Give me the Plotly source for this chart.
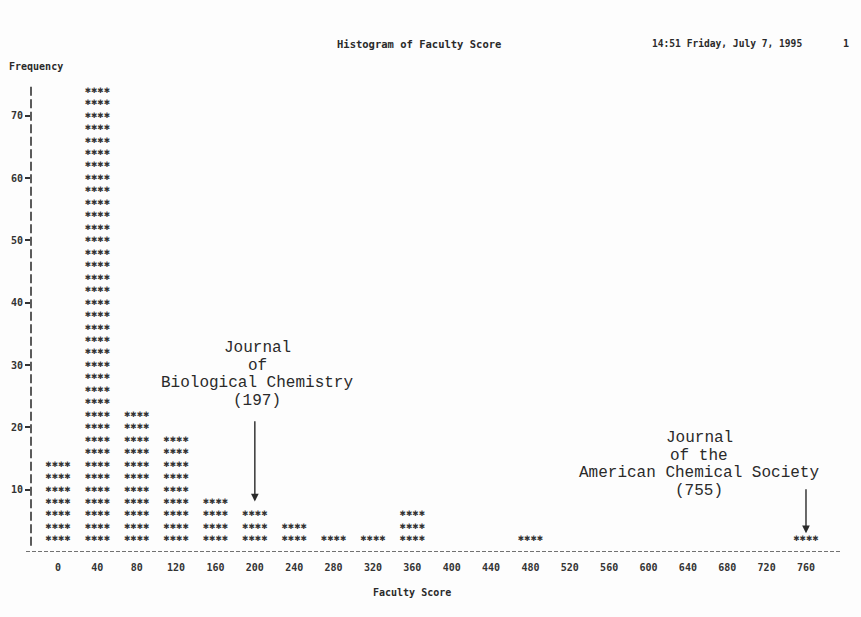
import plotly.graph_objects as go

# ---- data ----
scores = [0, 40, 80, 120, 160, 200, 240, 280, 320, 360, 400, 440, 480, 520, 560, 600, 640, 680, 720, 760]
freq = [14, 74, 22, 18, 8, 6, 4, 2, 2, 6, 0, 0, 2, 0, 0, 0, 0, 0, 0, 2]
ytick_vals = [10, 20, 30, 40, 50, 60, 70]
row_step = 2  # each printed row of symbols represents 2 counts

# ---- build printer-style rows of symbols from data ----
xs, ys = [], []
for s, f in zip(scores, freq):
    for k in range(1, f // row_step + 1):
        xs.append(s)
        ys.append(k * row_step)

W, H = 861, 617
L, R, T, B = 31, 21, 80, 65
pw, ph = W - L - R, H - T - B


def px(x):
    return (x - L) / pw


def py(y):
    return (H - B - y) / ph


mono = "DejaVu Sans Mono"
courier = "Liberation Mono"
ink = "#2a2a2a"

fig = go.Figure()
fig.add_trace(go.Scatter(
    x=xs, y=ys, mode="text", text=["\u2731\u2731\u2731\u2731"] * len(xs),
    textfont=dict(family="DejaVu Sans", size=7.6, color="#333"),
    textposition="middle center", hoverinfo="skip", showlegend=False,
))

shapes = [
    # dashed baseline
    dict(type="line", xref="paper", yref="y", x0=px(26), x1=px(842), y0=0, y1=0,
         line=dict(color="#444", width=1.4, dash="4px,2px")),
    # vertical printer axis
    dict(type="line", xref="paper", yref="y", x0=0, x1=0, y0=1, y1=75,
         line=dict(color="#333", width=1.6, dash="9px,3.5px")),
]

annotations = []


def txt(text, x, y, size, family, xanchor="center", bold=False):
    annotations.append(dict(
        text=text, x=px(x), y=py(y), xref="paper", yref="paper", showarrow=False,
        xanchor=xanchor, yanchor="middle",
        font=dict(family=family, size=size, color=ink, weight="bold" if bold else "normal"),
    ))


txt("Histogram of Faculty Score", 419, 44, 10.5, mono, bold=True)
txt("14:51 Friday, July 7, 1995", 650, 44, 9.6, mono, xanchor="left", bold=True)
txt("1", 846, 44, 10, mono, bold=True)
txt("Frequency", 7, 67, 10, mono, xanchor="left", bold=True)
txt("Faculty Score", 412, 592, 10, mono, bold=True)

for i, line in enumerate(["Journal", "of", "Biological Chemistry", "(197)"]):
    txt(line, 257, 348 + i * 17.5, 16, courier)
for i, line in enumerate(["Journal", "of the", "American Chemical Society", "(755)"]):
    txt(line, 699, 438 + i * 17.5, 16, courier)

# arrows pointing to the bins
annotations.append(dict(x=200, y=8.1, ax=200, ay=21.2, xref="x", yref="y", axref="x", ayref="y",
                        text="", showarrow=True, arrowhead=2, arrowsize=1.1, arrowwidth=1.4,
                        arrowcolor=ink))
annotations.append(dict(x=760, y=3.0, ax=760, ay=10.3, xref="x", yref="y", axref="x", ayref="y",
                        text="", showarrow=True, arrowhead=2, arrowsize=1.1, arrowwidth=1.4,
                        arrowcolor=ink))

fig.update_layout(
    width=W, height=H,
    margin=dict(l=L, r=R, t=T, b=B),
    paper_bgcolor="#fdfdfd", plot_bgcolor="#fdfdfd",
    shapes=shapes, annotations=annotations,
    xaxis=dict(range=[(L - 58) / 0.9842, (W - R - 58) / 0.9842],
               tickvals=scores, ticktext=[str(s) for s in scores],
               showgrid=False, zeroline=False, showline=False,
               ticks="outside", ticklen=6, tickcolor="rgba(0,0,0,0)",
               tickfont=dict(family=mono, size=10, color="#333", weight="bold")),
    yaxis=dict(range=[0, (H - B - T) / 6.233],
               tickvals=ytick_vals, ticktext=[str(v) for v in ytick_vals],
               showgrid=False, zeroline=False, showline=False,
               ticks="outside", ticklen=5, tickwidth=1.5, tickcolor="#333",
               tickfont=dict(family=mono, size=10, color="#333", weight="bold")),
)

fig.write_html("out.html")
